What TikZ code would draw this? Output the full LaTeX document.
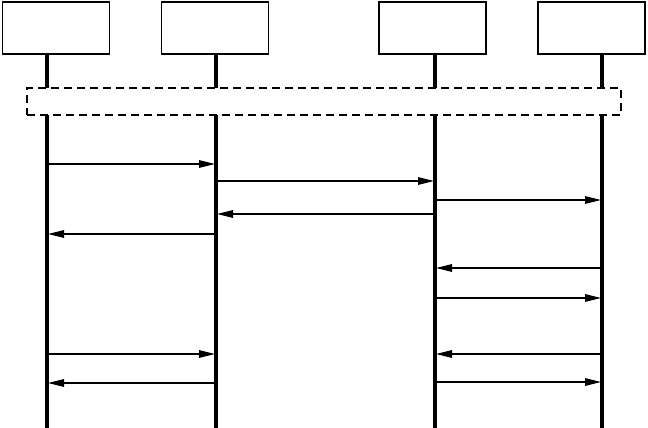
\documentclass[tikz,border=0pt]{standalone}
\usetikzlibrary{arrows.meta, positioning, calc}

\tikzset{
    actor/.style={draw, rectangle, line width=1.1pt, minimum width=107pt, minimum height=52pt, inner sep=0pt},
    lifeline/.style={line width=3.2pt},
    msg/.style={-{Triangle[length=16pt, width=7.5pt]}, line width=1.4pt, shorten >=1pt},
    frame/.style={draw, dash pattern=on 8pt off 5pt, fill=white, line width=1.3pt, inner sep=0pt}
}

\begin{document}
\begin{tikzpicture}[x=1pt, y=-1pt]
    \useasboundingbox (0,0) rectangle (648,428);

    \node (a1) at (56,28) [actor] {};
    \node (a2) at (215,28) [actor] {};
    \node (a3) at (432.5,28) [actor] {};
    \node (a4) at (591.5,28) [actor] {};

    \foreach \i/\x in {1/47, 2/216, 3/435, 4/602} {
        \coordinate (l\i) at (\x,54);
        \coordinate (e\i) at (\x,428);
        \draw [lifeline] (l\i) -- (e\i);
    }

    \node (grp) at (324,101.5) [frame, minimum width=594pt, minimum height=27pt] {};

    \foreach \y/\s/\t in {164/1/2, 181/2/3, 200/3/4, 214/3/2, 234/2/1, 268/4/3,
                          298/3/4, 354/1/2, 354/4/3, 383/2/1, 382/3/4} {
        \draw [msg] (l\s |- 0,\y) -- (l\t |- 0,\y);
    }
\end{tikzpicture}
\end{document}
